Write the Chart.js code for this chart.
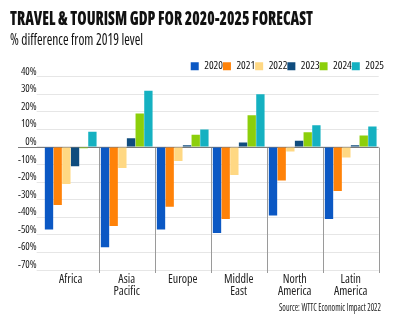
<!DOCTYPE html>
<html>
<head>
<meta charset="utf-8">
<script src="https://cdn.jsdelivr.net/npm/chart.js@4.4.1/dist/chart.umd.min.js"></script>
<style>
  html, body { margin: 0; padding: 0; background: #fff; }
  #wrap { position: relative; width: 400px; height: 321px; overflow: hidden; }
  #chart { position: absolute; left: 0; top: 0; }
  .txt { position: absolute; white-space: nowrap; transform-origin: 0 0; color: #111;
         font-family: "Open Sans", sans-serif; font-stretch: condensed; line-height: 1; }
  #title { left: 10px; top: 8.2px; font-size: 20px; font-weight: 800; }
  #subtitle { left: 10px; top: 30.8px; font-size: 16px; }
  #source { top: 301.8px; font-size: 10px; color: #222; }
</style>
</head>
<body>
<div id="wrap">
  <canvas id="chart" width="400" height="321"></canvas>
  <div class="txt" id="title">TRAVEL &amp; TOURISM GDP FOR 2020-2025 FORECAST</div>
  <div class="txt" id="subtitle">% difference from 2019 level</div>
  <div class="txt" id="source">Source: WTTC Economic Impact 2022</div>
</div>
<script>
// Regions (x categories)
const regions = ['Africa', ['Asia', 'Pacific'], 'Europe', ['Middle', 'East'], ['North', 'America'], ['Latin', 'America']];

// Forecast years (series)
const years = ['2020', '2021', '2022', '2023', '2024', '2025'];

// % difference from 2019 travel & tourism GDP, one array per year, in region order
const y2020 = [-47, -57, -47, -49, -39, -41];
const y2021 = [-33, -45, -34, -41, -19, -25];
const y2022 = [-21, -12, -8, -16, -2.5, -6];
const y2023 = [-11, 5, 1, 2.5, 3.5, 1];
const y2024 = [-0.7, 19, 7, 18, 8.4, 6.6];
const y2025 = [8.7, 32, 10, 30, 12.4, 11.6];

// Value axis ticks
const tickMin = -70;
const tickMax = 40;
const tickStep = 10;

const seriesValues = [y2020, y2021, y2022, y2023, y2024, y2025];
const seriesColors = ['#0b58c4', '#ff8208', '#ffd883', '#0f4c7e', '#8ccf0b', '#15b1c1'];

// Condensed width of Open Sans (variable wdth axis), passed through the font shorthand
const FAMILY = '"Open Sans", sans-serif';
const COND = 'condensed';

// Squeeze a text block horizontally to a given width (condensed headline look)
function fitWidth(el, target, rightEdge) {
  const w = el.getBoundingClientRect().width;
  el.style.transform = 'scaleX(' + (target / w) + ')';
  if (rightEdge !== undefined) el.style.left = (rightEdge - target) + 'px';
}
fitWidth(document.getElementById('title'), 303);
fitWidth(document.getElementById('subtitle'), 133);
fitWidth(document.getElementById('source'), 102, 381);

// Zero baseline and region separators below it
const regionDividers = {
  id: 'regionDividers',
  beforeDatasetsDraw(chart) {
    const { ctx, chartArea, scales } = chart;
    const xs = scales.x, ys = scales.y;
    const y0 = Math.round(ys.getPixelForValue(0)) + 0.5;
    const n = xs.ticks.length;
    const step = (chartArea.right - chartArea.left) / n;
    ctx.save();
    ctx.lineWidth = 1;
    ctx.strokeStyle = '#9a9a9a';
    for (let i = 0; i < n; i++) {
      const px = Math.round(xs.getPixelForValue(i) + step / 2) + 0.5;
      ctx.beginPath();
      ctx.moveTo(px, y0);
      ctx.lineTo(px, chartArea.bottom + 3);
      ctx.stroke();
    }
    ctx.strokeStyle = '#7a7a7a';
    ctx.beginPath();
    ctx.moveTo(18, y0);
    ctx.lineTo(chartArea.right, y0);
    ctx.stroke();
    ctx.restore();
  }
};

new Chart(document.getElementById('chart'), {
  type: 'bar',
  data: {
    labels: regions,
    datasets: years.map((yr, i) => ({
      label: yr,
      data: seriesValues[i],
      backgroundColor: seriesColors[i],
      borderWidth: 0,
      categoryPercentage: 0.93,
      barPercentage: 0.96
    }))
  },
  options: {
    responsive: false,
    animation: false,
    devicePixelRatio: 1,
    layout: { padding: { top: 60.7, left: 0, right: 16, bottom: 0 } },
    plugins: {
      title: { display: false },
      tooltip: { enabled: false },
      legend: {
        position: 'top',
        align: 'end',
        maxHeight: 16,
        labels: {
          boxWidth: 8,
          boxHeight: 8,
          padding: 0,
          color: '#111',
          font: { family: FAMILY, weight: COND, size: 11 }
        }
      }
    },
    scales: {
      x: {
        afterFit(s) { s.height = 51; },
        grid: { display: false, drawTicks: false },
        border: { display: false },
        ticks: {
          padding: 3,
          maxRotation: 0,
          autoSkip: false,
          color: '#222',
          font: { family: FAMILY, weight: COND, size: 12, lineHeight: 1.05 }
        }
      },
      y: {
        min: tickMin,
        max: tickMax,
        afterFit(s) { s.width = 42.7; },
        grid: {
          color: '#e6e6e6',
          tickColor: '#e6e6e6',
          tickLength: 6,
          lineWidth: 1
        },
        border: { display: false },
        ticks: {
          stepSize: tickStep,
          padding: 0,
          labelOffset: -5,
          color: '#222',
          font: { family: FAMILY, weight: COND, size: 10.5 },
          callback: v => v + '%'
        }
      },
      // narrow blank strip on the right so the legend can run past the plot edge
      yRight: {
        position: 'right',
        display: true,
        afterFit(s) { s.width = 5.3; },
        grid: { display: false, drawTicks: false },
        border: { display: false },
        ticks: { display: false }
      }
    }
  },
  plugins: [regionDividers]
});
</script>
</body>
</html>
